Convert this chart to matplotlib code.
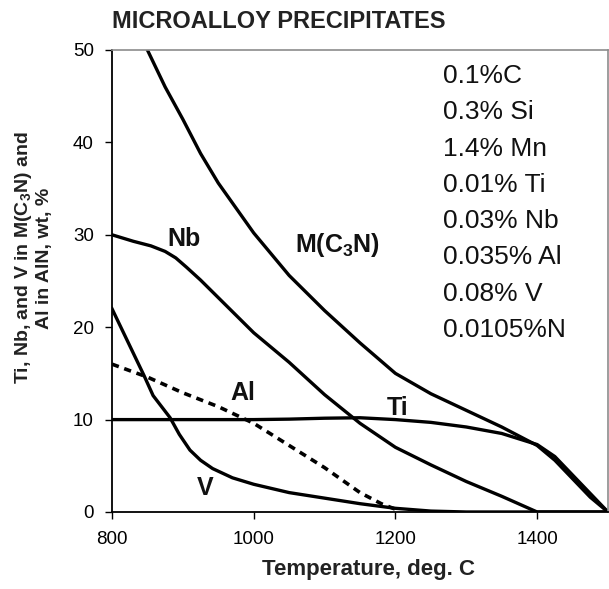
import numpy as np
import matplotlib
matplotlib.use("Agg")
import matplotlib.pyplot as plt

plt.rcParams['font.family'] = ['Liberation Sans', 'DejaVu Sans']
plt.rcParams['mathtext.fontset'] = 'custom'
plt.rcParams['mathtext.rm'] = 'Liberation Sans:bold'
plt.rcParams['mathtext.bf'] = 'Liberation Sans:bold'

# temperature (deg C) vs wt %
m_t = [850, 875, 900, 925, 950, 1000, 1050, 1100, 1150, 1200, 1250, 1300, 1350, 1400, 1425, 1450, 1475, 1500]
m_v = [50, 46, 42.5, 38.8, 35.6, 30.2, 25.6, 21.8, 18.3, 15.0, 12.8, 11.0, 9.2, 7.2, 5.6, 3.6, 1.6, 0]

nb_t = [800, 830, 855, 875, 890, 905, 925, 950, 975, 1000, 1050, 1100, 1150, 1200, 1250, 1300, 1350, 1400, 1500]
nb_v = [30, 29.3, 28.8, 28.2, 27.5, 26.5, 25.1, 23.2, 21.3, 19.4, 16.2, 12.7, 9.6, 7.0, 5.1, 3.3, 1.7, 0, 0]

ti_t = [800, 900, 1000, 1050, 1100, 1150, 1200, 1250, 1300, 1350, 1400, 1425, 1450, 1475, 1500]
ti_v = [10, 10, 10, 10.05, 10.15, 10.2, 10.0, 9.7, 9.2, 8.5, 7.3, 6.0, 4.0, 2.0, 0]

v_t = [800, 815, 830, 845, 858, 870, 882, 895, 910, 925, 942, 970, 1000, 1050, 1100, 1150, 1200, 1250, 1300, 1500]
v_v = [22, 19.6, 17.2, 14.8, 12.6, 11.4, 10.2, 8.4, 6.7, 5.6, 4.7, 3.7, 3.0, 2.1, 1.5, 0.9, 0.4, 0.1, 0, 0]

al_t = [800, 850, 900, 950, 1000, 1050, 1100, 1150, 1180, 1200]
al_v = [16, 14.6, 12.9, 11.4, 9.6, 7.2, 4.8, 2.1, 0.9, 0.3]

labels = ['Nb', 'M(C$_3$N)', 'Al', 'Ti', 'V']
label_t = [902, 1118, 985, 1203, 932]
label_v = [29.5, 28.9, 12.9, 11.3, 2.6]

composition = ['0.1%C', '0.3% Si', '1.4% Mn', '0.01% Ti', '0.03% Nb', '0.035% Al', '0.08% V', '0.0105%N']

fig = plt.figure(figsize=(6.09, 5.89), dpi=100)
ax = fig.add_axes([112/609, 1-512/589, 496/609, 462/589])

lw = 2.4
ax.plot(m_t, m_v, color='black', lw=lw, solid_joinstyle='round')
ax.plot(nb_t, nb_v, color='black', lw=lw, solid_joinstyle='round')
ax.plot(ti_t, ti_v, color='black', lw=lw, solid_joinstyle='round')
ax.plot(v_t, v_v, color='black', lw=lw, solid_joinstyle='round')
ax.plot(al_t, al_v, color='black', lw=2.6, linestyle=(0, (2.0, 1.6)), dash_capstyle='butt')

for s, tx, vy in zip(labels, label_t, label_v):
    ax.text(tx, vy, s, fontsize=18, fontweight='bold', ha='center', va='center', color='#111111')

for i, s in enumerate(composition):
    ax.text((443-112)/496, (512-76-i*36.3)/462, s, transform=ax.transAxes,
            fontsize=19, ha='left', va='center', color='#111111')

ax.set_xlim(800, 1500)
ax.set_ylim(0, 50)
ax.set_xticks([800, 1000, 1200, 1400])
ax.set_yticks([0, 10, 20, 30, 40, 50])
ax.tick_params(axis='both', direction='out', length=5, width=1, labelsize=13.5, color='black')
ax.tick_params(axis='y', pad=8)
ax.tick_params(axis='x', pad=9)

ax.spines['left'].set_linewidth(1.3)
ax.spines['bottom'].set_linewidth(1.3)
ax.spines['top'].set_color('#8c8c8c')
ax.spines['right'].set_color('#8c8c8c')
ax.spines['top'].set_linewidth(1.2)
ax.spines['right'].set_linewidth(1.2)

fig.text(279/609, 1-22/589, 'MICROALLOY PRECIPITATES', fontsize=17, fontweight='bold',
         ha='center', va='center', color='#222222')
fig.text(368/609, 1-569/589, 'Temperature, deg. C', fontsize=16, fontweight='bold',
         ha='center', va='center', color='#222222')
fig.text(33/609, 1-258/589, 'Ti, Nb, and V in M(C$_3$N) and\nAl in AlN, wt, %', fontsize=14,
         fontweight='bold', rotation=90, ha='center', va='center', linespacing=1.15, color='#222222')

fig.savefig('out.png', dpi=100)
